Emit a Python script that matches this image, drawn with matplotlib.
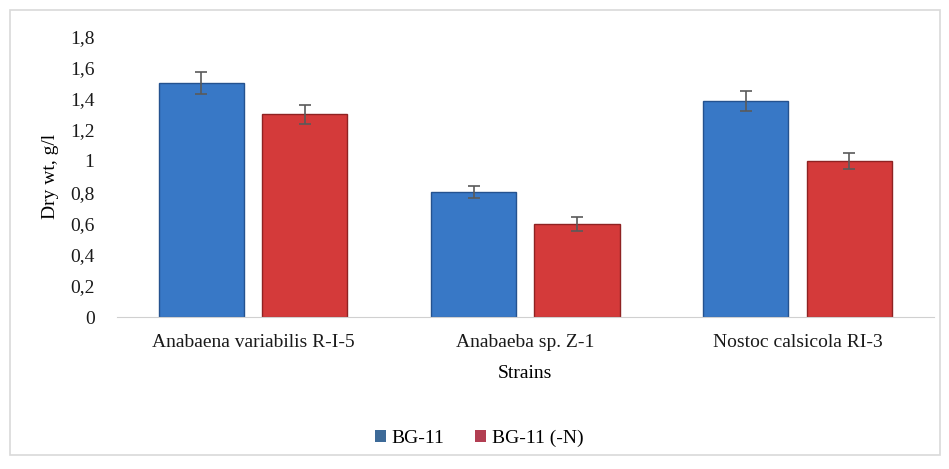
import numpy as np
import matplotlib
matplotlib.use("Agg")
import matplotlib.pyplot as plt
from matplotlib.patches import Rectangle

strains = ["Anabaena variabilis R-I-5", "Anabaeba sp. Z-1", "Nostoc calsicola RI-3"]
bg11 = [1.50, 0.80, 1.385]
bg11_err = [0.07, 0.04, 0.065]
bg11_n = [1.30, 0.595, 1.00]
bg11_n_err = [0.06, 0.045, 0.05]
yticks = [0, 0.2, 0.4, 0.6, 0.8, 1.0, 1.2, 1.4, 1.6, 1.8]
ytick_labels = ["0", "0,2", "0,4", "0,6", "0,8", "1", "1,2", "1,4", "1,6", "1,8"]

plt.rcParams["font.family"] = ["Liberation Serif", "DejaVu Serif"]

fig = plt.figure(figsize=(9.49, 4.69), dpi=100)
# light frame around the whole chart
fig.patches.append(Rectangle((10 / 949, 14 / 469), 930 / 949, 445 / 469,
                             transform=fig.transFigure, fill=False,
                             edgecolor="#d9d9d9", linewidth=1.2))

ax = fig.add_axes([0.123, 0.324, 0.861, 0.599])
x = np.arange(len(strains))
w = 0.3125
off = 0.19

err_kw = dict(ecolor="#5a5a5a", capsize=4, elinewidth=1.2, capthick=1.2)
ax.bar(x - off, bg11, w, yerr=bg11_err, color="#3878c6", edgecolor="#24528f",
       linewidth=1.0, error_kw=err_kw, label="BG-11", zorder=2)
ax.bar(x + off, bg11_n, w, yerr=bg11_n_err, color="#d43a3a", edgecolor="#8f2222",
       linewidth=1.0, error_kw=err_kw, label="BG-11 (-N)", zorder=2)

ax.set_xlim(-0.5, 2.5)
ax.set_ylim(0, 1.8)
ax.set_yticks(yticks)
ax.set_yticklabels(ytick_labels)
ax.set_xticks(x)
ax.set_xticklabels(strains)
ax.tick_params(axis="both", length=0, labelsize=14, colors="#1a1a1a")
ax.tick_params(axis="y", pad=16)
ax.tick_params(axis="x", pad=12)
for s in ["top", "right", "left"]:
    ax.spines[s].set_visible(False)
ax.spines["bottom"].set_color("#d0d0d0")
ax.set_ylabel("Dry wt, g/l", fontsize=14, labelpad=8)
ax.set_xlabel("Strains", fontsize=14, labelpad=10)

handles, labels = ax.get_legend_handles_labels()
leg_handles = [Rectangle((0, 0), 1, 1, facecolor="#3d6a98"),
               Rectangle((0, 0), 1, 1, facecolor="#b23e52")]
fig.legend(leg_handles, labels, loc="center", bbox_to_anchor=(0.505, 0.066),
           ncol=2, frameon=False, fontsize=14, handlelength=0.55,
           handleheight=0.55, handletextpad=0.3, columnspacing=1.6)

fig.savefig("out.png", dpi=100)
